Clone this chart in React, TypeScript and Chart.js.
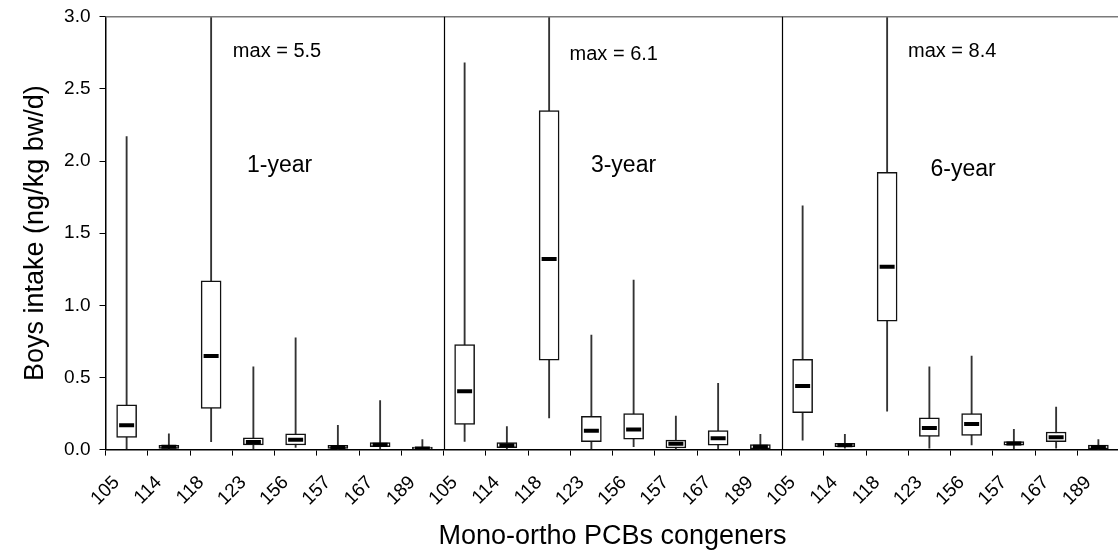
import React, { useEffect, useRef } from 'react';
import { Chart, registerables } from 'chart.js';

Chart.register(...registerables);

// ---------- data ----------
const congeners = ['105', '114', '118', '123', '156', '157', '167', '189'];
const groups = ['1-year', '3-year', '6-year'];

// 1-year
const min1 = [0.005, 0.0, 0.055, 0.005, 0.015, 0.0, 0.005, 0.0];
const q1_1 = [0.085, 0.008, 0.286, 0.032, 0.032, 0.008, 0.02, 0.0];
const med1 = [0.168, 0.02, 0.648, 0.053, 0.069, 0.018, 0.033, 0.008];
const q3_1 = [0.31, 0.03, 1.17, 0.082, 0.11, 0.03, 0.048, 0.018];
const max1 = [2.17, 0.11, 5.5, 0.574, 0.775, 0.168, 0.34, 0.07];

// 3-year
const min2 = [0.057, 0.005, 0.22, 0.005, 0.02, 0.0, 0.005, 0.0];
const q1_2 = [0.175, 0.013, 0.62, 0.055, 0.073, 0.011, 0.03, 0.005];
const med2 = [0.404, 0.03, 1.32, 0.131, 0.14, 0.041, 0.078, 0.02];
const q3_2 = [0.727, 0.048, 2.35, 0.23, 0.249, 0.066, 0.131, 0.034];
const max2 = [2.68, 0.16, 6.1, 0.794, 1.175, 0.233, 0.459, 0.106];

// 6-year
const min3 = [0.066, 0.01, 0.267, 0.01, 0.032, 0.005, 0.01, 0.0];
const q1_3 = [0.256, 0.02, 0.89, 0.092, 0.099, 0.03, 0.055, 0.005];
const med3 = [0.44, 0.03, 1.267, 0.15, 0.177, 0.042, 0.085, 0.018];
const q3_3 = [0.625, 0.043, 1.922, 0.221, 0.249, 0.055, 0.122, 0.032];
const max3 = [1.69, 0.106, 8.4, 0.574, 0.648, 0.14, 0.295, 0.07];

const yTicks = [0, 0.5, 1.0, 1.5, 2.0, 2.5, 3.0];
const yTitle = 'Boys intake (ng/kg bw/d)';
const xTitle = 'Mono-ortho PCBs congeners';

// ---------- derived tables ----------
const labels = groups.flatMap(() => congeners);
const mins = [...min1, ...min2, ...min3];
const maxs = [...max1, ...max2, ...max3];
const q1s = [...q1_1, ...q1_2, ...q1_3];
const q3s = [...q3_1, ...q3_2, ...q3_3];
const meds = [...med1, ...med2, ...med3];
const groupMax = [max1[2], max2[2], max3[2]];

// annotation anchors (category units within a group, value units)
const maxNoteX = [3.56, 3.53, 3.54];
const maxNoteY = [2.76, 2.74, 2.76];
const yearNoteX = [3.62, 3.76, 3.8];
const yearNoteY = [1.97, 1.97, 1.94];

const FONT = "'Liberation Sans', Arial, Helvetica, sans-serif";
const W = 1131;
const H = 558;

const overlayPlugin = {
  id: 'overlay',
  afterDatasetsDraw(chart: any) {
    const { ctx, chartArea, scales } = chart;
    const x = scales.x;
    const y = scales.y;
    ctx.save();
    // top frame line
    ctx.strokeStyle = '#7a7a7a';
    ctx.lineWidth = 1.5;
    ctx.beginPath();
    ctx.moveTo(chartArea.left, chartArea.top);
    ctx.lineTo(chartArea.right + 2, chartArea.top);
    ctx.stroke();
    // group separators
    ctx.strokeStyle = '#000';
    ctx.lineWidth = 1.2;
    for (let g = 1; g < groups.length; g++) {
      const px = Math.round(x.getPixelForValue(g * congeners.length - 0.5)) + 0.5;
      ctx.beginPath();
      ctx.moveTo(px, chartArea.top);
      ctx.lineTo(px, chartArea.bottom);
      ctx.stroke();
    }
    // annotations
    ctx.fillStyle = '#000';
    ctx.textAlign = 'center';
    ctx.textBaseline = 'middle';
    for (let g = 0; g < groups.length; g++) {
      const base = g * congeners.length;
      ctx.font = `20px ${FONT}`;
      ctx.fillText(
        `max = ${groupMax[g].toFixed(1)}`,
        x.getPixelForValue(base + maxNoteX[g]),
        y.getPixelForValue(maxNoteY[g])
      );
      ctx.font = `23px ${FONT}`;
      ctx.fillText(groups[g], x.getPixelForValue(base + yearNoteX[g]), y.getPixelForValue(yearNoteY[g]));
    }
    ctx.restore();
  },
};

export default function App() {
  const canvasRef = useRef<HTMLCanvasElement | null>(null);

  useEffect(() => {
    if (!canvasRef.current) return;
    const chart = new Chart(canvasRef.current, {
      type: 'bar',
      data: {
        labels,
        datasets: [
          {
            type: 'line',
            label: 'median',
            data: meds,
            showLine: false,
            pointStyle: 'line',
            pointRadius: 7.5,
            pointHoverRadius: 7.5,
            pointBorderWidth: 4,
            pointBorderColor: '#000',
            pointBackgroundColor: '#000',
          } as any,
          {
            type: 'bar',
            label: 'box',
            data: q1s.map((v, i) => [v, q3s[i]]),
            backgroundColor: '#ffffff',
            borderColor: '#111',
            borderWidth: 1.5,
            borderSkipped: false,
            barThickness: 20,
            grouped: false,
          } as any,
          {
            type: 'bar',
            label: 'whisker',
            data: mins.map((v, i) => [v, maxs[i]]),
            backgroundColor: '#333',
            borderWidth: 0,
            barThickness: 1.2,
            grouped: false,
          } as any,
        ],
      },
      options: {
        animation: false,
        responsive: false,
        devicePixelRatio: 1,
        events: [],
        layout: { padding: { left: 0, right: 0, top: 16.7, bottom: 0 } },
        plugins: {
          legend: { display: false },
          tooltip: { enabled: false },
          title: { display: false },
        },
        scales: {
          x: {
            type: 'category',
            offset: true,
            grid: {
              display: true,
              offset: true,
              drawOnChartArea: false,
              drawTicks: true,
              tickLength: 6,
              color: '#000',
              lineWidth: 1,
            },
            border: { display: true, color: '#000', width: 1.5 },
            ticks: {
              color: '#000',
              font: { family: FONT, size: 19 },
              minRotation: 45,
              maxRotation: 45,
              autoSkip: false,
              padding: 16,
              labelOffset: -10,
            },
            title: {
              display: true,
              text: xTitle,
              color: '#000',
              font: { family: FONT, size: 27, lineHeight: 1.2 },
              padding: { top: 0, bottom: 5 },
            },
            afterFit(scale: any) {
              scale.height = H - 449.6;
              scale.paddingLeft = 0;
              scale.paddingRight = 0;
            },
          },
          y: {
            min: 0,
            max: 3,
            afterBuildTicks(scale: any) {
              scale.ticks = yTicks.map((v) => ({ value: v }));
            },
            grid: {
              display: true,
              drawOnChartArea: false,
              drawTicks: true,
              tickLength: 6,
              color: '#000',
              lineWidth: 1,
            },
            border: { display: true, color: '#000', width: 1.5 },
            ticks: {
              color: '#000',
              font: { family: FONT, size: 19 },
              padding: 9,
              callback: (v: any) => Number(v).toFixed(1),
            },
            title: {
              display: true,
              text: yTitle,
              color: '#000',
              font: { family: FONT, size: 27, lineHeight: 1.2 },
              padding: { top: 19, bottom: 0 },
            },
            afterFit(scale: any) {
              scale.width = 105.5;
              scale.paddingTop = 0;
              scale.paddingBottom = 0;
            },
          },
        },
      },
      plugins: [overlayPlugin],
    });
    return () => chart.destroy();
  }, []);

  return (
    <div
      style={{
        position: 'fixed',
        left: 0,
        top: 0,
        width: 1118,
        height: 558,
        overflow: 'hidden',
        background: '#fff',
      }}
    >
      <canvas ref={canvasRef} width={W} height={H} style={{ display: 'block', width: W, height: H }} />
    </div>
  );
}
